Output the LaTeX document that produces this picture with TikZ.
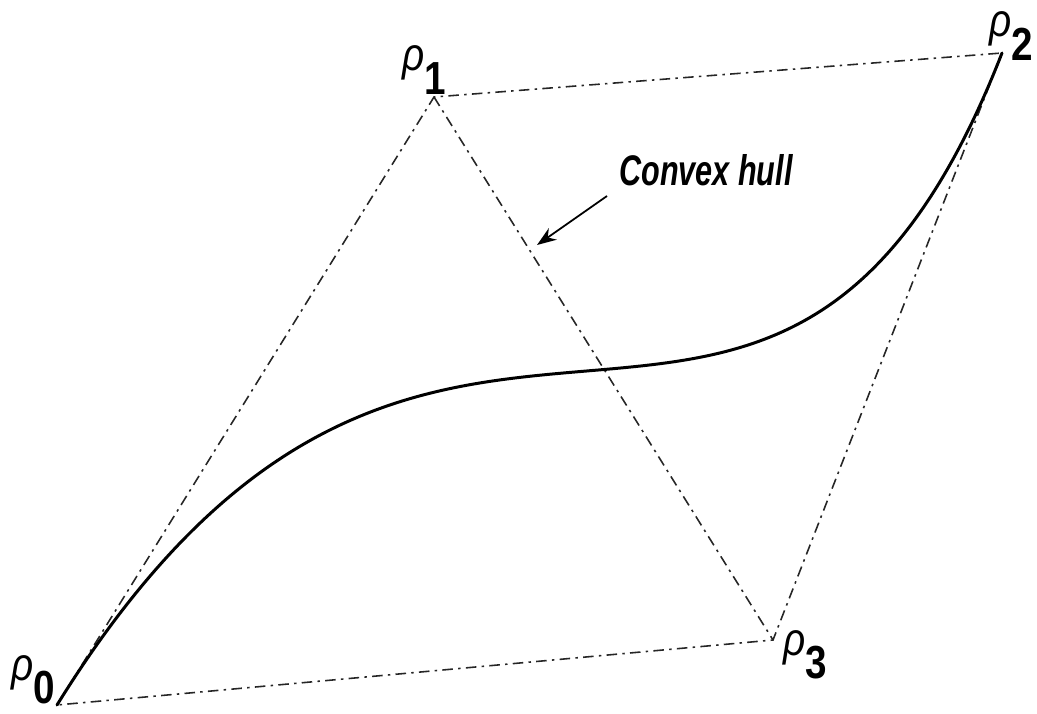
\documentclass[tikz,border=0pt]{standalone}
\usepackage{fontspec}
\setmainfont{Liberation Sans}
\usetikzlibrary{arrows.meta}
\newcommand{\ptname}[1]{\scalebox{1}[1.2]{\itshape ρ\raisebox{-0.5em}{\upshape\bfseries #1}}}

\begin{document}
\begin{tikzpicture}[x=0.02cm,y=-0.02cm,
		hullline/.style={line width=0.9pt,black!85,dash pattern=on 6pt off 3pt on 1.4pt off 3pt},
		ptlabel/.style={font=\fontsize{22}{24}\selectfont,inner sep=0pt}]
		\useasboundingbox (0,0) rectangle (1037,713);
		\coordinate (P0) at (57,705);
		\coordinate (P1) at (434,97);
		\coordinate (P2) at (1002,53);
		\coordinate (P3) at (773,640);
		% convex hull of the control points
		\draw[hullline] (P0) -- (P1) -- (P2) -- (P3) -- cycle;
		\draw[hullline] (P1) -- (P3);
		% the curve
		\draw[line width=1.7pt,line cap=round] (P0) .. controls (P1) and (P3) .. (P2);
		\node[ptlabel] (L0) at (33,680) {\ptname{0}};
		\node[ptlabel] (L1) at (424,70) {\ptname{1}};
		\node[ptlabel] (L2) at (1011,36) {\ptname{2}};
		\node[ptlabel] (L3) at (805,655) {\ptname{3}};
		\node[font=\fontsize{17.4}{20}\selectfont\bfseries\itshape,inner sep=0pt] (hull) at (706,170) {\scalebox{1}[1.4]{Convex hull}};
		\coordinate (tip) at (537,245);
		\coordinate (tail) at (607,196);
		\draw[-{Stealth[length=11pt,width=8pt]},line width=1pt] (tail) -- (tip);
	\end{tikzpicture}
\end{document}
